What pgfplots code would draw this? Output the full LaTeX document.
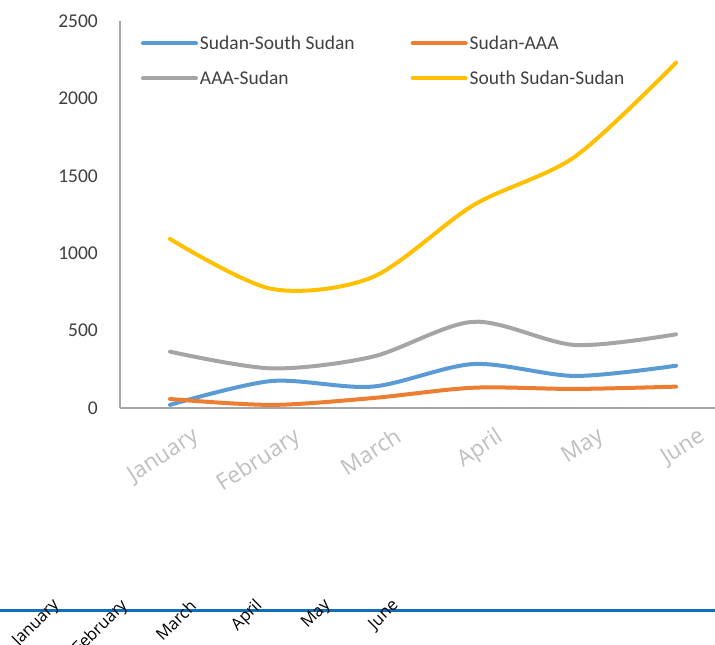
\documentclass[border=0pt]{standalone}
\usepackage{fontspec}
\setmainfont{Carlito}
\newfontfamily\osans{Open Sans}
\usepackage{pgfplots}
\pgfplotsset{compat=1.18}
\definecolor{cBlue}{HTML}{5B9BD5}
\definecolor{cOrange}{HTML}{ED7D31}
\definecolor{cGray}{HTML}{A5A5A5}
\definecolor{cGold}{HTML}{FFC000}
\definecolor{axisgray}{HTML}{A6A6A6}
\definecolor{ticktext}{HTML}{404040}
\definecolor{xlab}{HTML}{BFBFBF}
\definecolor{lineblue}{HTML}{0F6FB8}
\begin{document}
\begin{tikzpicture}[x=1bp,y=1bp]
\path[use as bounding box] (0,0) rectangle (715,645);
\begin{axis}[
  at={(120bp,237bp)}, anchor=south west,
  scale only axis, width=595bp, height=387bp,
  xmin=-0.494, xmax=5.385, ymin=0, ymax=2500,
  axis x line*=bottom, axis y line*=left,
  axis line style={draw=axisgray, line width=1.2bp},
  major tick length=0,
  xtick={0,...,5}, xticklabels={January,February,March,April,May,June},
  ytick={0,500,...,2500}, yticklabels={0,500,1000,1500,2000,2500},
  yticklabel style={font=\fontsize{19.5bp}{21bp}\selectfont, text=ticktext, inner sep=0pt, anchor=east, xshift=-22bp},
  xticklabel style={font=\osans\fontsize{22.5bp}{24bp}\selectfont, text=xlab, inner sep=0pt, xshift=21bp, yshift=-18bp, rotate=33, anchor=north east},
  legend columns=2,
  legend cell align=left,
  legend style={draw=none, fill=none, inner sep=0pt, outer sep=0pt,
    at={(rel axis cs:0.0353,0.9667)}, anchor=north west,
    font=\fontsize{19.5bp}{21bp}\selectfont, text=ticktext,
    /tikz/every even column/.append style={column sep=54bp}, row sep=16bp},
  legend image code/.code={\draw[#1, line width=4bp, line cap=round] (2bp,0bp) -- (55bp,0bp);},
]
\addplot[cBlue, line width=4bp, line cap=round, smooth, tension=0.5] coordinates {(0,20) (1,174) (2,138) (3,284) (4,207) (5,273)};
\addlegendentry{Sudan-South Sudan}
\addplot[cOrange, line width=4bp, line cap=round, smooth, tension=0.5] coordinates {(0,58) (1,20) (2,64) (3,131) (4,123) (5,138)};
\addlegendentry{Sudan-AAA}
\addplot[cGray, line width=4bp, line cap=round, smooth, tension=0.5] coordinates {(0,364) (1,256) (2,331) (3,557) (4,407) (5,476)};
\addlegendentry{AAA-Sudan}
\addplot[cGold, line width=4bp, line cap=round, smooth, tension=0.5] coordinates {(0,1092) (1,770) (2,845) (3,1311) (4,1623) (5,2231)};
\addlegendentry{South Sudan-Sudan}
\end{axis}
\begin{axis}[
  at={(0bp,34bp)}, anchor=south west,
  scale only axis, width=715bp, height=20bp,
  xmin=0, xmax=715, ymin=0, ymax=1,
  axis x line*=bottom, axis y line=none,
  x axis line style={draw=lineblue, line width=3bp},
  major tick length=0, ytick=\empty,
  xtick={57,125,193,260,328,396},
  xticklabels={January,February,March,April,May,June},
  xticklabel style={font=\osans\fontsize{16.5bp}{18bp}\selectfont, text=black, inner sep=0pt, yshift=8bp, rotate=45, anchor=east},
]
\end{axis}
\end{tikzpicture}
\end{document}
